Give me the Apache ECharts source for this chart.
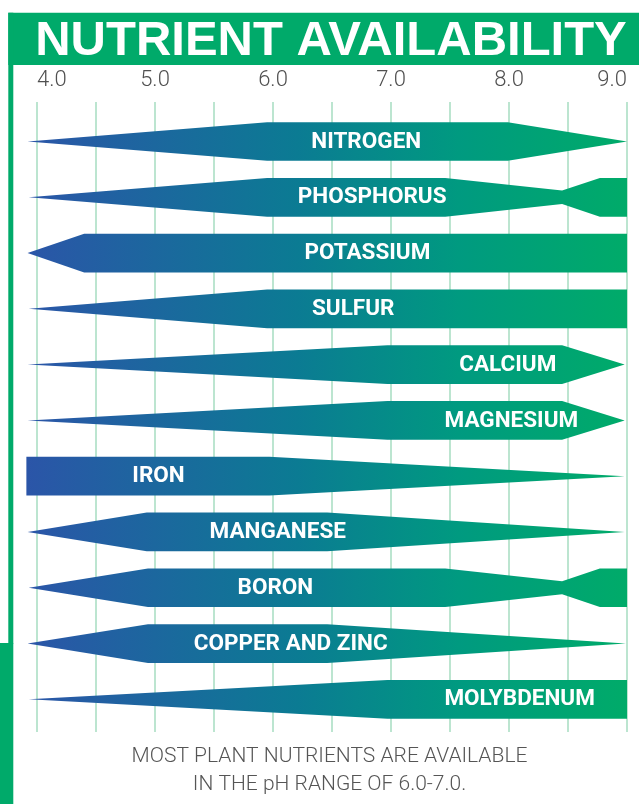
<!DOCTYPE html>
<html><head><meta charset="utf-8">
<script src="https://cdn.jsdelivr.net/npm/echarts@6/dist/echarts.min.js"></script>
<style>html,body{margin:0;padding:0;background:#fff}#c{width:639px;height:804px}</style>
</head><body><div id="c"></div>
<script>
const titleText = 'NUTRIENT AVAILABILITY';
const footnote = ['MOST PLANT NUTRIENTS ARE AVAILABLE', 'IN THE pH RANGE OF 6.0-7.0.'];
const phTicks = [4.0, 5.0, 6.0, 7.0, 8.0, 9.0];
const nutrients = ['NITROGEN','PHOSPHORUS','POTASSIUM','SULFUR','CALCIUM','MAGNESIUM','IRON','MANGANESE','BORON','COPPER AND ZINC','MOLYBDENUM'];
// availability profile of each nutrient: [pH, relative availability 0..1]
const nitrogen   = [[3.92,0],[5.95,1],[7.99,1],[9.0,0]];
const phosphorus = [[3.93,0],[5.95,1],[7.46,1],[8.45,0.35],[8.77,1],[9.0,1]];
const potassium  = [[3.92,0],[4.40,1],[9.0,1]];
const sulfur     = [[3.93,0],[5.95,1],[9.0,1]];
const calcium    = [[3.92,0],[6.97,1],[8.45,1],[8.98,0]];
const magnesium  = [[3.92,0],[6.97,1],[8.45,1],[8.98,0]];
const iron       = [[3.91,1],[5.97,1],[8.98,0]];
const manganese  = [[3.92,0],[4.93,1],[6.46,1],[8.98,0]];
const boron      = [[3.93,0],[4.94,1],[7.46,1],[8.45,0.33],[8.77,1],[9.0,1]];
const copperZinc = [[3.92,0],[4.94,1],[6.46,1],[8.99,0]];
const molybdenum = [[3.93,0],[6.97,1],[9.0,1]];
// pH at which each nutrient's name is written
const labelPH = [6.79,6.84,6.80,6.68,7.99,8.02,5.03,6.04,6.02,6.15,8.09];

const profiles = [nitrogen, phosphorus, potassium, sulfur, calcium, magnesium, iron, manganese, boron, copperZinc, molybdenum];

const GREEN = '#00aa6a';
const chart = echarts.init(document.getElementById('c'), null, {renderer:'canvas'});
const bandFill = new echarts.graphic.LinearGradient(27, 0, 627, 0, [
  {offset:0, color:'#2b55a8'},
  {offset:0.45, color:'#0b7b93'},
  {offset:0.72, color:'#009a80'},
  {offset:1, color:'#00ab69'}
], true);

chart.setOption({
  animation: false,
  backgroundColor: '#fff',
  grid: {left: 37, right: 12, top: 102, bottom: 72},
  xAxis: {
    type: 'value', min: 4, max: 9, interval: 0.5, position: 'top',
    axisLine: {show:false}, axisTick: {show:false},
    splitLine: {show:true, lineStyle:{color:'#a6dcc0', width:1.5}},
    axisLabel: {
      show: true, margin: 11, color: '#505050', fontSize: 22, fontWeight: 300, fontFamily: 'Roboto',
      showMinLabel: true, showMaxLabel: true, alignMinLabel: 'left', alignMaxLabel: 'right',
      formatter: v => phTicks.some(t => Math.abs(t - v) < 1e-6) ? v.toFixed(1) : ''
    }
  },
  yAxis: {type:'value', inverse:true, min:-0.708, max:10.586, show:false, splitLine:{show:false}},
  series: [{
    type: 'custom',
    encode: {x: 0, y: 1},
    data: nutrients.map((n, i) => [labelPH[i], i, n]),
    renderItem: function (params, api) {
      const i = params.dataIndex;
      const prof = profiles[i];
      const cy = api.coord([6, i])[1];
      const half = api.size([0, 1])[1] * 0.347;
      const top = prof.map(([p, a]) => [api.coord([p, i])[0], cy - a * half]);
      const bot = prof.slice().reverse().map(([p, a]) => [api.coord([p, i])[0], cy + a * half]);
      const lp = api.coord([api.value(0), i]);
      return {
        type: 'group',
        children: [
          {type:'polygon', shape:{points: top.concat(bot)}, style:{fill: bandFill}},
          {type:'text', x: lp[0], y: cy + 0.5, style:{
            text: nutrients[i], fill:'#fff', font:'bold 22.5px Roboto',
            align:'center', verticalAlign:'middle'}}
        ]
      };
    }
  }],
  graphic: [
    {type:'rect', shape:{x:8.3, y:12.7, width:640, height:52.3}, style:{fill:GREEN}, z:10},
    {type:'rect', shape:{x:8.3, y:12.7, width:5, height:631}, style:{fill:GREEN}, z:10},
    {type:'rect', shape:{x:0, y:643, width:13.3, height:161}, style:{fill:GREEN}, z:10},
    {type:'text', x:331, y:41, style:{text:titleText, fill:'#fff', font:'bold 49px "Liberation Sans"', align:'center', verticalAlign:'middle'}, z:11},
    {type:'text', x:329.5, y:757, style:{text:footnote[0], fill:'#555', font:'300 21px Roboto', align:'center', verticalAlign:'middle'}, z:11},
    {type:'text', x:329.5, y:785, style:{text:footnote[1], fill:'#555', font:'300 21px Roboto', align:'center', verticalAlign:'middle'}, z:11}
  ]
});
</script></body></html>
